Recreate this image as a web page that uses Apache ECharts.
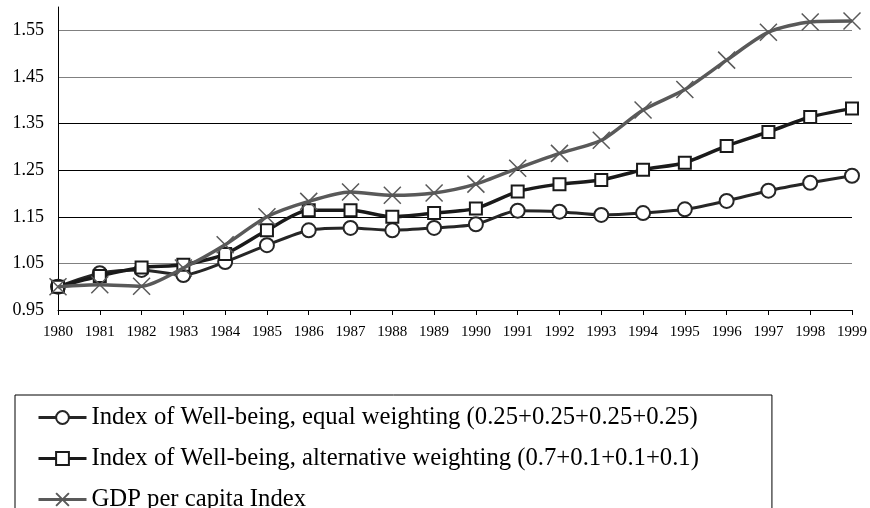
<!DOCTYPE html>
<html>
<head>
<meta charset="utf-8">
<script src="https://cdn.jsdelivr.net/npm/echarts@6/dist/echarts.min.js"></script>
<style>
  html, body { margin: 0; padding: 0; background: #fff; }
  #chart-container { width: 870px; height: 508px; }
</style>
</head>
<body>
<div id="chart-container"></div>
<script>
var dom = document.getElementById("chart-container");
var myChart = echarts.init(dom, null, { renderer: "canvas" });

const serif = "'Liberation Serif', 'Times New Roman', serif";

const years = ["1980", "1981", "1982", "1983", "1984", "1985", "1986", "1987", "1988", "1989",
  "1990", "1991", "1992", "1993", "1994", "1995", "1996", "1997", "1998", "1999"];

const equalWeighting = [1.0, 1.029, 1.036, 1.025, 1.053, 1.089, 1.121, 1.126, 1.121, 1.126,
  1.134, 1.163, 1.161, 1.154, 1.158, 1.166, 1.184, 1.206, 1.223, 1.238];

const altWeighting = [1.0, 1.023, 1.041, 1.047, 1.07, 1.121, 1.164, 1.164, 1.15, 1.158,
  1.168, 1.204, 1.22, 1.229, 1.251, 1.266, 1.302, 1.332, 1.364, 1.382];

const gdpIndex = [1.0, 1.004, 1.001, 1.04, 1.09, 1.15, 1.183, 1.203, 1.196, 1.201,
  1.22, 1.254, 1.286, 1.314, 1.379, 1.423, 1.486, 1.546, 1.568, 1.57];

const seriesNames = [
  "Index of Well-being, equal weighting (0.25+0.25+0.25+0.25)",
  "Index of Well-being, alternative weighting (0.7+0.1+0.1+0.1)",
  "GDP per capita Index",
];

const crossIcon = "path://M0,0L10,10M10,0L0,10";

var option = {
  animation: false,
  backgroundColor: "#fff",
  grid: {
    left: 58,
    right: 18,
    top: 7,
    bottom: 198,
  },
  legend: {
    orient: "vertical",
    left: 15,
    top: 395,
    height: 300,
    padding: [10, 73, 12, 22],
    borderColor: "#000",
    borderWidth: 1,
    itemWidth: 48,
    itemHeight: 16,
    itemGap: 16,
    lineStyle: { width: 3 },
    textStyle: {
      fontFamily: serif,
      fontSize: 24.7,
      lineHeight: 24,
      color: "#000",
    },
    data: seriesNames,
  },
  xAxis: {
    type: "category",
    data: years,
    boundaryGap: false,
    axisLine: { lineStyle: { color: "#000", width: 1 } },
    axisTick: { show: true, interval: 0, length: 5, lineStyle: { color: "#000" } },
    axisLabel: {
      interval: 0,
      margin: 15,
      fontFamily: serif,
      fontSize: 15,
      color: "#000",
    },
    splitLine: { show: false },
  },
  yAxis: {
    type: "value",
    min: 0.95,
    max: 1.6,
    interval: 0.1,
    axisLine: { show: true, lineStyle: { color: "#000", width: 1 } },
    axisTick: { show: false },
    axisLabel: {
      showMaxLabel: false,
      margin: 14,
      fontFamily: serif,
      fontSize: 18,
      color: "#000",
      formatter: function (v) {
        return v.toFixed(2);
      },
    },
    splitLine: {
      show: true,
      showMinLine: false,
      showMaxLine: false,
      lineStyle: {
        color: ["#808080", "#000", "#000", "#000", "#808080", "#808080"],
        width: 1,
      },
    },
  },
  series: [
    {
      name: seriesNames[0],
      type: "line",
      data: equalWeighting,
      smooth: 0.25,
      symbol: "emptyCircle",
      symbolSize: 14,
      color: "#262626",
      lineStyle: { color: "#262626", width: 3 },
      itemStyle: { color: "#262626", borderWidth: 1.5 },
      z: 3,
    },
    {
      name: seriesNames[1],
      type: "line",
      data: altWeighting,
      smooth: 0.25,
      symbol: "emptyRect",
      symbolSize: 12,
      color: "#1a1a1a",
      lineStyle: { color: "#1a1a1a", width: 3.5 },
      itemStyle: { color: "#1a1a1a", borderWidth: 2 },
      z: 4,
    },
    {
      name: seriesNames[2],
      type: "line",
      data: gdpIndex,
      smooth: 0.25,
      symbol: crossIcon,
      symbolSize: 17,
      color: "#595959",
      lineStyle: { color: "#595959", width: 3.5 },
      itemStyle: { color: "#595959", borderColor: "#595959", borderWidth: 1.5 },
      z: 5,
    },
  ],
};

myChart.setOption(option);
window.addEventListener("resize", myChart.resize);
</script>
</body>
</html>
